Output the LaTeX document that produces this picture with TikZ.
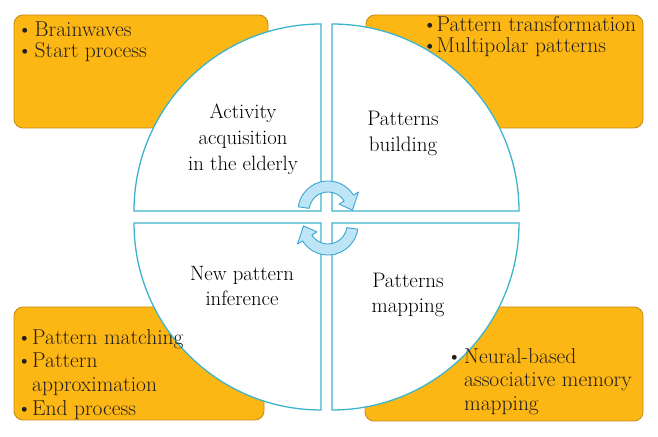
\documentclass[tikz,border=0pt]{standalone}
\definecolor{boxfill}{HTML}{FDB714}
\definecolor{boxline}{HTML}{C98F16}
\definecolor{quadline}{HTML}{3DB4CC}
\definecolor{arrfill}{HTML}{BEE5F6}
\definecolor{arrline}{HTML}{3BA6D8}
\definecolor{txt}{HTML}{231F20}
\begin{document}
\begin{tikzpicture}[x=1pt,y=1pt,
  infobox/.style={draw=boxline, fill=boxfill, line width=0.9pt, rounded corners=9pt},
  quad/.style={draw=quadline, fill=white, line width=1.3pt},
  quadtext/.style={align=center, inner sep=0pt, anchor=north, text=black},
  bullettext/.style={inner sep=0pt, anchor=north west, text=txt},
  cyc/.style={draw=arrline, fill=arrfill, line width=0.9pt, line join=round}]
\useasboundingbox (0,0) rectangle (658,436);
% info boxes
\draw[infobox] (14,308) rectangle (268,421);
\draw[infobox] (366,308) rectangle (643,421);
\draw[infobox] (14,16) rectangle (264,129);
\draw[infobox] (365,15) rectangle (643,129);
% quadrants
\draw[quad] (321,225) -- (134,225) arc[start angle=180, end angle=90, radius=187pt] -- cycle;
\draw[quad] (332,225) -- (332,412) arc[start angle=90, end angle=0, radius=187pt] -- cycle;
\draw[quad] (321,213) -- (321,26) arc[start angle=270, end angle=180, radius=187pt] -- cycle;
\draw[quad] (332,213) -- (519,213) arc[start angle=0, end angle=-90, radius=187pt] -- cycle;
% quadrant texts
\node[quadtext, font=\fontsize{20.7}{26}\selectfont] (q1) at (243,332.3) {Activity\\acquisition\\in the elderly};
\node[quadtext, font=\fontsize{21}{26}\selectfont] (q2) at (403,325.3) {Patterns\\building};
\node[quadtext, font=\fontsize{20.7}{25}\selectfont] (q3) at (242,170.3) {New pattern\\inference};
\node[quadtext, font=\fontsize{21}{25}\selectfont] (q4) at (408,163.3) {Patterns\\mapping};
% bullet texts
\node[bullettext, font=\fontsize{21.5}{21}\selectfont] (b1) at (17,414.7)
  {\begin{tabular}{@{}l@{\hspace{2pt}}l@{}}\textbullet&Brainwaves\\\textbullet&Start process\end{tabular}};
\node[bullettext, font=\fontsize{21.5}{21}\selectfont] (b2) at (422,419.7)
  {\begin{tabular}{@{}l@{\hspace{-1pt}}l@{}}\textbullet&Pattern transformation\\\textbullet&Multipolar patterns\end{tabular}};
\node[bullettext, font=\fontsize{21.5}{23.7}\selectfont] (b3) at (16.5,108.6)
  {\begin{tabular}{@{}l@{\hspace{0pt}}l@{}}\textbullet&Pattern matching\\\textbullet&Pattern\\&approximation\\\textbullet&End process\end{tabular}};
\node[bullettext, font=\fontsize{21.5}{23.5}\selectfont] (b4) at (446.5,89.5)
  {\begin{tabular}{@{}l@{\hspace{2pt}}l@{}}\textbullet&Neural-based\\&associative memory\\&mapping\end{tabular}};
% cycle arrows
\begin{scope}[shift={(328,225)}]
\draw[cyc] (172:30pt) arc[start angle=172, end angle=32, radius=30pt] -- (32:36pt) -- (2:24.5pt) -- (32:13pt) -- (32:19pt) arc[start angle=32, end angle=172, radius=19pt] -- cycle;
\end{scope}
\begin{scope}[shift={(328,211)}, rotate=180]
\draw[cyc] (172:30pt) arc[start angle=172, end angle=32, radius=30pt] -- (32:36pt) -- (2:24.5pt) -- (32:13pt) -- (32:19pt) arc[start angle=32, end angle=172, radius=19pt] -- cycle;
\end{scope}
\end{tikzpicture}
\end{document}
